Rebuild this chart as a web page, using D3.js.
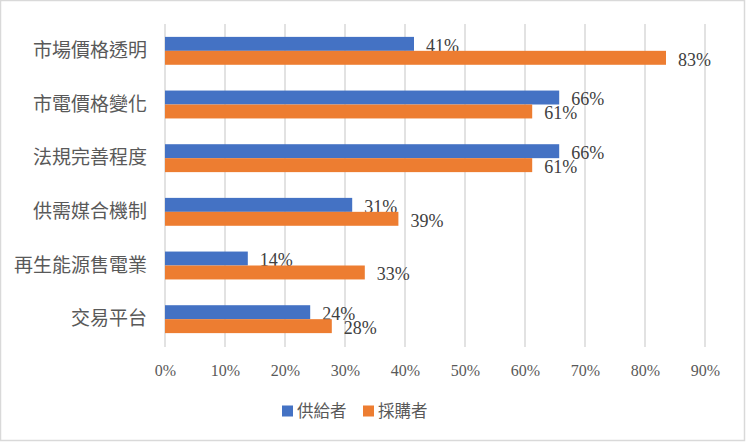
<!DOCTYPE html>
<html><head><meta charset="utf-8">
<script src="https://cdn.jsdelivr.net/npm/d3@7"></script>
<style>body{margin:0;background:#fff}svg{display:block}</style>
</head><body>
<script>
const categories = ["市場價格透明","市電價格變化","法規完善程度","供需媒合機制","再生能源售電業","交易平台"];
const seriesNames = ["供給者","採購者"];
const supplier = [0.415, 0.657, 0.657, 0.312, 0.138, 0.242];
const buyer = [0.835, 0.612, 0.612, 0.389, 0.333, 0.278];
const supplierLabels = ["41%","66%","66%","31%","14%","24%"];
const buyerLabels = ["83%","61%","61%","39%","33%","28%"];
const ticks = [0,0.1,0.2,0.3,0.4,0.5,0.6,0.7,0.8,0.9];
const colors = ["#4472C4","#ED7D31"];

const W=747,H=443;
const svg=d3.select("body").append("svg").attr("width",W).attr("height",H);
svg.append("rect").attr("x",0.5).attr("y",0.5).attr("width",W-3).attr("height",H-3)
  .attr("fill","#fff").attr("stroke","#d9d9d9").attr("stroke-width",1.5);

const x=d3.scaleLinear().domain([0,0.9]).range([165,705]);
const y=d3.scaleBand().domain(categories).range([24,346]).paddingInner(0.48).paddingOuter(0.24);
const sub=d3.scaleBand().domain(seriesNames).range([0,y.bandwidth()]);

// gridlines
svg.append("g").selectAll("line").data(ticks).join("line")
  .attr("x1",d=>x(d)).attr("x2",d=>x(d)).attr("y1",24).attr("y2",347)
  .attr("stroke","#d9d9d9").attr("stroke-width",1.5);

// axis labels
const xAxis=d3.axisBottom(x).tickValues(ticks).tickFormat(d3.format(".0%")).tickSize(0).tickPadding(0);
const gx=svg.append("g").attr("transform","translate(0,364)").call(xAxis);
gx.select(".domain").remove();
gx.selectAll("text").attr("font-family","'Liberation Serif','Times New Roman',serif")
  .attr("font-size","16px").attr("fill","#595959").attr("dy","0.35em").attr("y",6);

const yAxis=d3.axisLeft(y).tickSize(0).tickPadding(0);
const gy=svg.append("g").attr("transform","translate(147,0)").call(yAxis);
gy.select(".domain").remove();
gy.selectAll("text").attr("font-family","'Noto Sans CJK TC','Noto Sans',sans-serif")
  .attr("font-size","19px").attr("fill","#595959");

const series=[
  {name:seriesNames[0],values:supplier,labels:supplierLabels,color:colors[0]},
  {name:seriesNames[1],values:buyer,labels:buyerLabels,color:colors[1]}
];
series.forEach(s=>{
  const g=svg.append("g");
  g.selectAll("rect").data(categories).join("rect")
    .attr("x",x(0)).attr("y",(c)=>y(c)+sub(s.name))
    .attr("width",(c,i)=>x(s.values[i])-x(0)).attr("height",sub.bandwidth())
    .attr("fill",s.color);
  g.selectAll("text").data(categories).join("text")
    .attr("x",(c,i)=>x(s.values[i])+12)
    .attr("y",(c)=>y(c)+sub(s.name)+sub.bandwidth()/2+1.5)
    .attr("dy","0.35em")
    .attr("font-family","'Liberation Serif','Times New Roman',serif")
    .attr("font-size","18px").attr("fill","#404040")
    .text((c,i)=>s.labels[i]);
});

// legend
const legend=svg.append("g");
const lx=[282,363];
series.forEach((s,i)=>{
  legend.append("rect").attr("x",lx[i]).attr("y",405.5).attr("width",11).attr("height",11).attr("fill",s.color);
  legend.append("text").attr("x",lx[i]+15).attr("y",411).attr("dy","0.35em")
    .attr("font-family","'Noto Sans CJK TC','Noto Sans',sans-serif").attr("font-size","16.5px")
    .attr("fill","#595959").text(s.name);
});
</script>
</body></html>
